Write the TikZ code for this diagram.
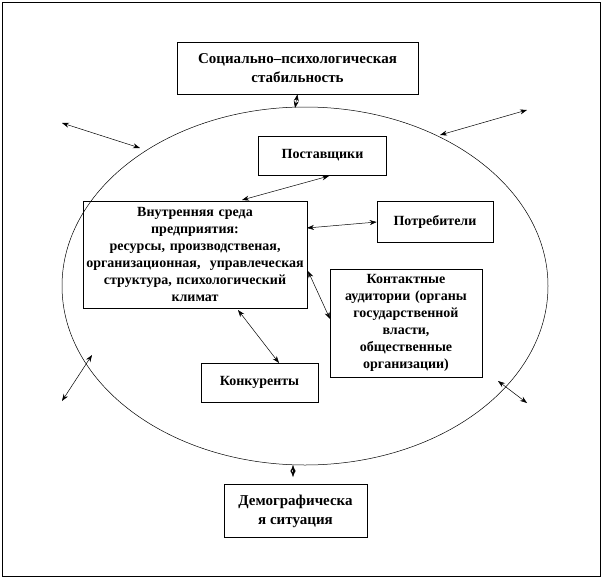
\documentclass[tikz,border=0pt]{standalone}
\usepackage{fontspec}
\setmainfont{Liberation Serif}
\usetikzlibrary{arrows.meta,shapes.geometric}
\begin{document}
\begin{tikzpicture}[x=1pt,y=-1pt,
  box/.style={draw,line width=0.6pt,rectangle,inner sep=1pt,align=center,font=\bfseries\fontsize{14}{17}\selectfont},
  link/.style={line width=0.5pt,{Stealth[length=7pt,width=5pt]}-{Stealth[length=7pt,width=5pt]}}]
\useasboundingbox (0,0) rectangle (602,578);
\draw[line width=0.6pt] (2,2) rectangle (600,576);
\node[draw,ellipse,line width=0.5pt,minimum width=486pt,minimum height=358pt,inner sep=0pt] (ell) at (305,286) {};
\node[box,minimum width=241pt,minimum height=52pt,font=\bfseries\fontsize{15}{19}\selectfont] (soc) at (297.5,68) {Социально–психологическая\\стабильность};
\node[box,minimum width=128pt,minimum height=39pt] (post) at (322.5,155.5) {Поставщики};
\node[box,minimum width=224pt,minimum height=107pt,text width=222pt] (inner) at (195,254.5) {Внутренняя среда\\предприятия:\\ресурсы, производственая,\\организационная,\ \ управлеческая\\структура, психологический\\климат};
\node[box,minimum width=116pt,minimum height=41pt] (potr) at (435,222) {Потребители};
\node[box,minimum width=152pt,minimum height=108pt,text width=150pt] (kont) at (406,323) {Контактные\\аудитории (органы\\государственной\\власти,\\общественные\\организации)};
\node[box,minimum width=117pt,minimum height=39pt] (konk) at (259.5,382.5) {Конкуренты};
\node[box,minimum width=143pt,minimum height=53pt,font=\bfseries\fontsize{15}{19}\selectfont] (dem) at (295.5,511) {Демографическа\\я ситуация};
\coordinate (nwA) at (62,123);
\coordinate (nwB) at (140,148);
\coordinate (neA) at (440,135);
\coordinate (neB) at (527,110);
\coordinate (swA) at (92,355);
\coordinate (swB) at (62,401);
\coordinate (seA) at (498,381);
\coordinate (seB) at (527,403);
\coordinate (botE) at (293,477);
\coordinate (botS) at (293,465);
\coordinate (topE) at (295,108);
\coordinate (i1) at (242,200);
\coordinate (p1) at (329,176);
\coordinate (i2) at (307,228);
\coordinate (i3) at (308,271);
\coordinate (k3) at (330,319);
\coordinate (i4) at (238,310);
\coordinate (k4) at (279,363);
\draw[link] (nwA) -- (nwB);
\draw[link] (neA) -- (neB);
\draw[link] (swA) -- (swB);
\draw[link] (seA) -- (seB);
\draw[link] (soc.south) -- (topE);
\draw[link] (botS) -- (botE);
\draw[link] (i1) -- (p1);
\draw[link] (i2) -- (potr.west);
\draw[link] (i3) -- (k3);
\draw[link] (i4) -- (k4);
\end{tikzpicture}
\end{document}
